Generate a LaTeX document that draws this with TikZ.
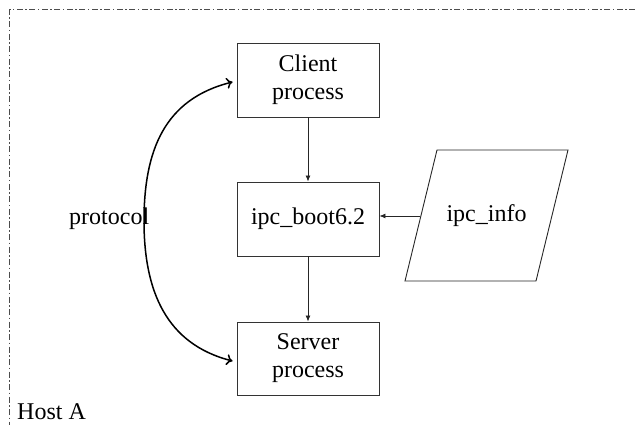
\documentclass[tikz,border=0pt]{standalone}
\usepackage{fontspec}
\setmainfont{Liberation Serif}
\usetikzlibrary{arrows.meta}
\begin{document}
\begin{tikzpicture}[x=1pt,y=-1pt,
  box/.style={draw=black!80, line width=0.9pt, rectangle, minimum width=142pt, minimum height=74pt,
    align=center, inner sep=0pt, font=\fontsize{24}{28}\selectfont},
  lbl/.style={inner sep=0pt, anchor=base west, font=\fontsize{24}{28}\selectfont},
  flow/.style={draw=black!85, line width=0.8pt, -{Latex[length=6pt,width=5pt]}},
  proto/.style={draw=black, line width=1.5pt, {To[length=6pt,width=11pt]}-{To[length=6pt,width=11pt]}},
  frame/.style={draw=black!70, line width=0.8pt, dash pattern=on 6pt off 2.5pt on 1.5pt off 2.5pt},
  para/.style={draw=black!85, line width=0.9pt}]
\useasboundingbox (0,0) rectangle (635,425);
% frame (Host A)
\coordinate (ftr) at (635,9.5);
\coordinate (ftl) at (9.5,9.5);
\coordinate (fbl) at (9.5,425);
\draw[frame] (ftr) -- (ftl) -- (fbl);
\node[lbl] (host) at (17,419) {Host A};
% boxes
\node[box] (client) at (308,80) {Client\\process};
\node[box] (ipc) at (308,219) {ipc\_boot6.2};
\node[box, minimum height=73pt] (server) at (308,358.5) {Server\\process};
% parallelogram
\coordinate (p1) at (437,150);
\coordinate (p2) at (568,150);
\coordinate (p3) at (536,281);
\coordinate (p4) at (405,281);
\draw[para] (p1) -- (p2) -- (p3) -- (p4) -- cycle;
\node[inner sep=0pt, font=\fontsize{24}{28}\selectfont] (info) at (486.5,216) {ipc\_info};
\coordinate (pin) at (420,216);
% connectors
\draw[flow] (client.south) -- (ipc.north);
\draw[flow] (ipc.south) -- (server.north);
\draw[flow] (pin) -- (pin -| ipc.east);
% protocol curve
\coordinate (cin) at (232.5,82);
\coordinate (sin) at (232.5,361);
\coordinate (pm) at (144,221);
\draw[proto] (cin) .. controls (164,99) and (144,151) .. (pm) .. controls (144,291) and (166,344) .. (sin);
\node[lbl] (protocol) at (69,225) {protocol};
\end{tikzpicture}
\end{document}
